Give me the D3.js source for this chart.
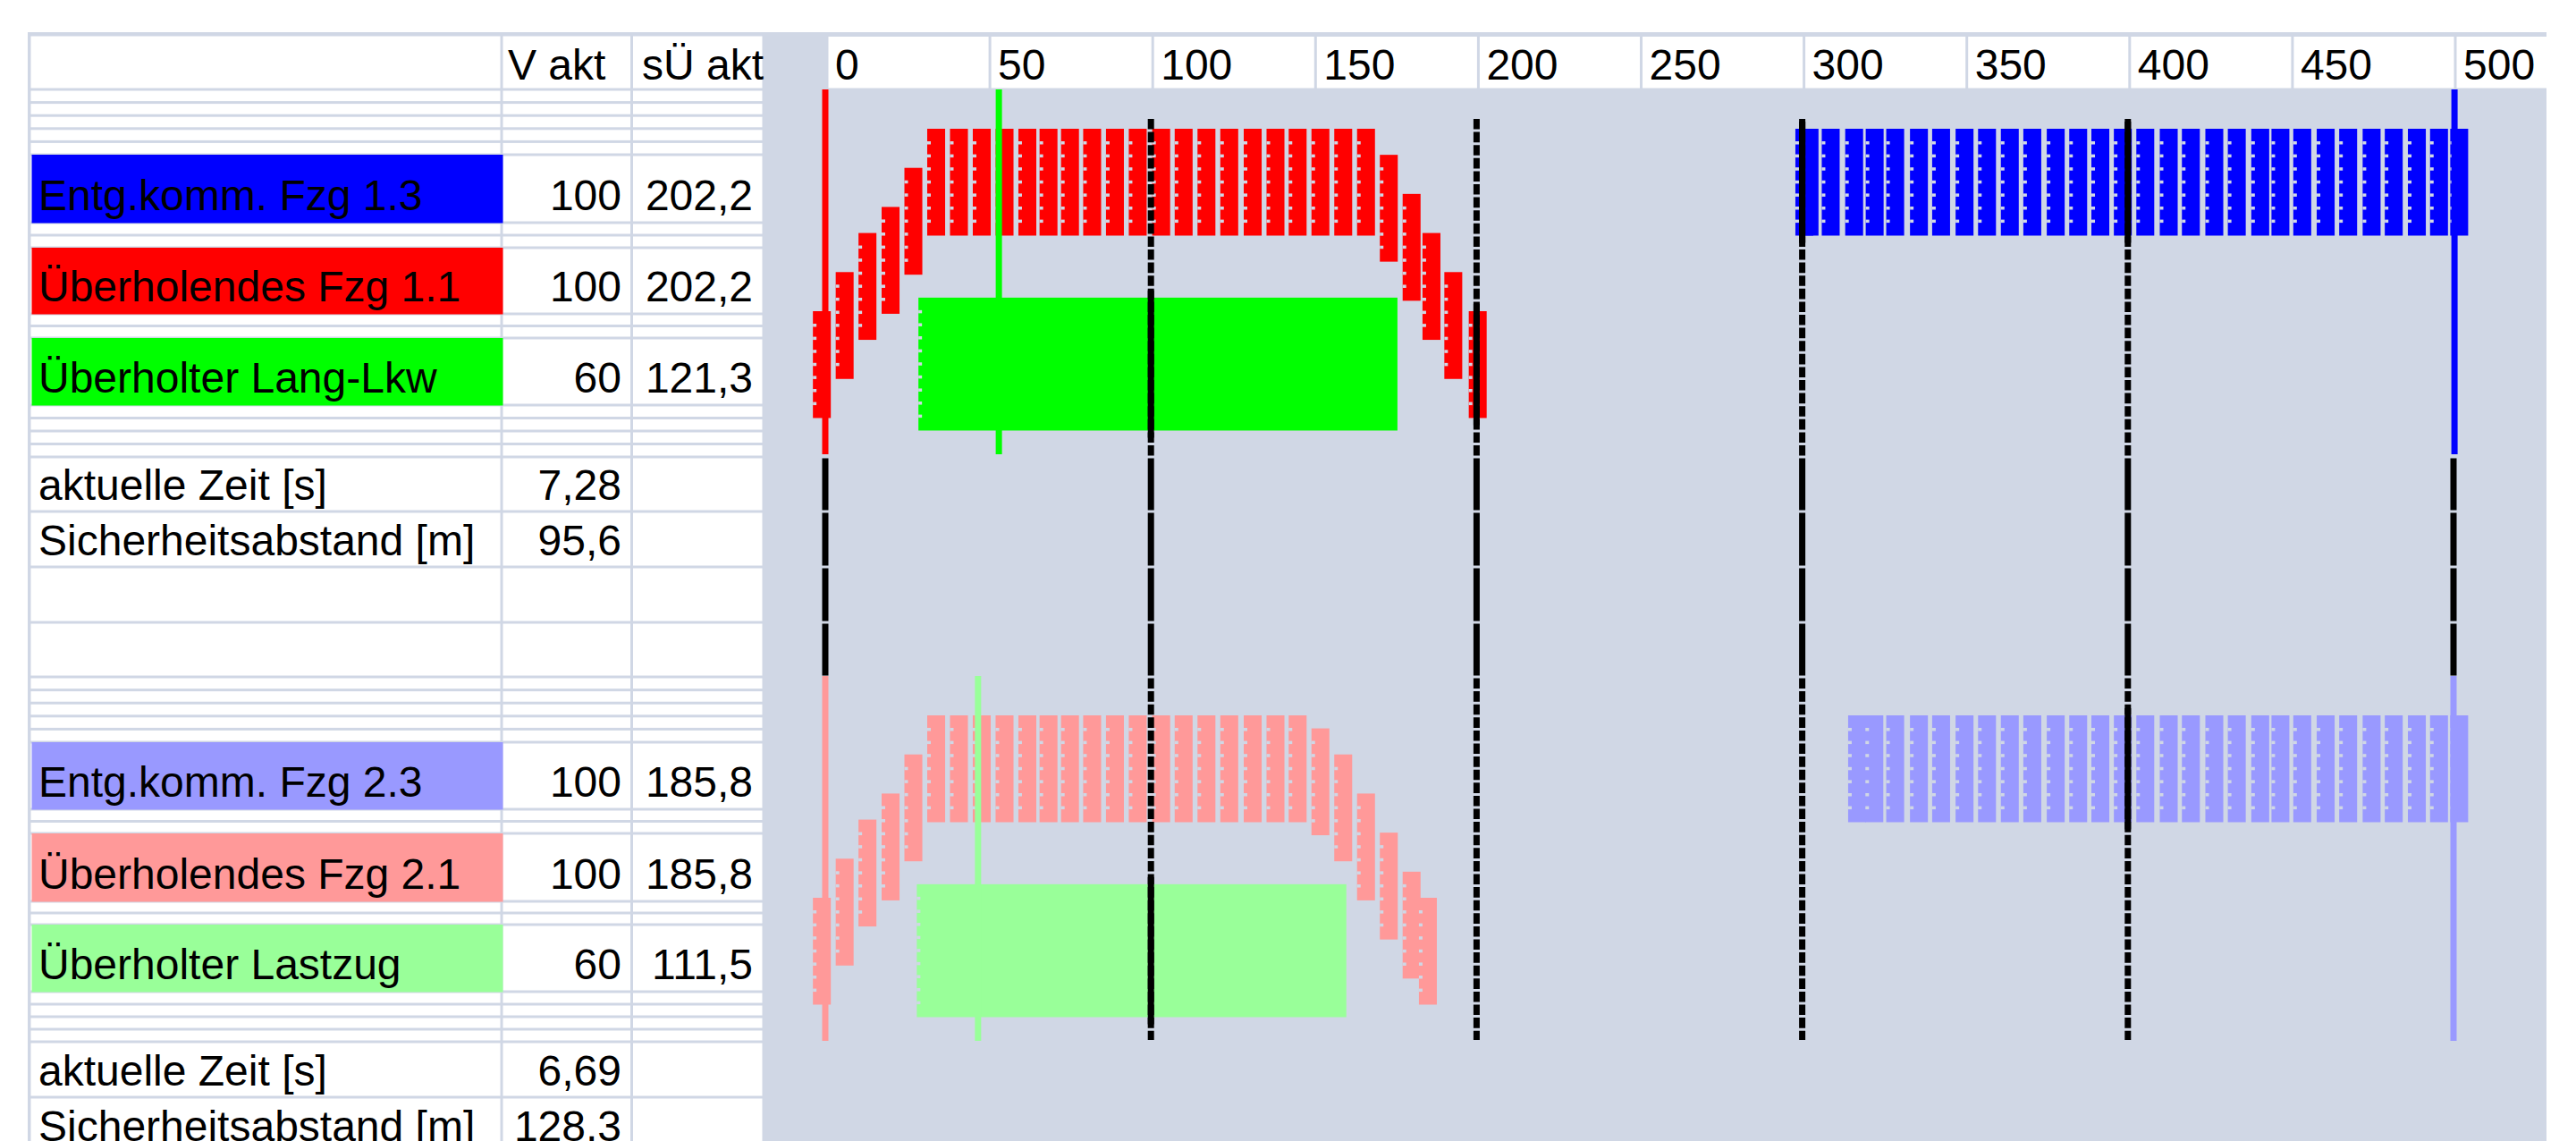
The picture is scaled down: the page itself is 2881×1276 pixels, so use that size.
<!DOCTYPE html>
<html><head><meta charset="utf-8">
<script src="https://cdn.jsdelivr.net/npm/d3@7"></script>
<style>
body{margin:0;background:#fff}
svg{display:block}
text{font-family:"Liberation Sans",Arial,sans-serif;font-size:48px;fill:#000}
</style></head>
<body><svg id="chart" width="2881" height="1276"></svg>
<script>
// ---------------- DATA ----------------
const tickValues = [0, 50, 100, 150, 200, 250, 300, 350, 400, 450, 500];
const gridValues = [100, 200, 300, 400];
const edgeValues = [0, 500];
const headerLabels = ["", "V akt", "sÜ akt"];

const group1Labels = ["Entg.komm. Fzg 1.3", "Überholendes Fzg 1.1", "Überholter Lang-Lkw"];
const group1Speeds = ["100", "100", "60"];
const group1Dist = ["202,2", "202,2", "121,3"];
const group1Info = [["aktuelle Zeit [s]", "7,28"], ["Sicherheitsabstand [m]", "95,6"]];

const group2Labels = ["Entg.komm. Fzg 2.3", "Überholendes Fzg 2.1", "Überholter Lastzug"];
const group2Speeds = ["100", "100", "60"];
const group2Dist = ["185,8", "185,8", "111,5"];
const group2Info = [["aktuelle Zeit [s]", "6,69"], ["Sicherheitsabstand [m]", "128,3"]];

// scenario 1 – positions [m] and lateral offsets [m]
const red1Pos = [-3.8, 3.2, 10.2, 17.3, 24.3, 31.3, 38.3, 45.3, 52.3, 59.3, 65.8, 72.4, 79.2, 86.2, 93.2,
  100.4, 107.3, 114.3, 121.3, 128.5, 135.5, 142.3, 149.3, 156.3, 163.3, 170.3, 177.3, 183.4, 190.1, 197.6];
const red1Lat = [3.5, 2.75, 2.0, 1.5, 0.75, 0, 0, 0, 0, 0, 0, 0, 0, 0, 0,
  0, 0, 0, 0, 0, 0, 0, 0, 0, 0, 0.5, 1.25, 2.0, 2.75, 3.5];
const blue1Pos = [297.9, 299.5, 306.0, 313.2, 319.5, 325.8, 333.1, 339.9, 347.1, 354.0, 361.0, 367.9, 375.1,
  382.0, 388.8, 395.7, 402.6, 409.8, 416.6, 423.8, 430.7, 437.9, 444.1, 450.8, 458.0, 464.9, 472.1, 478.9,
  486.0, 492.8, 499.0];
const truck1Span = [28.6, 175.7];
const marks1 = [0, 53.3, 500.3];          // red, green, blue position markers

// scenario 2
const red2Pos = [-3.8, 3.2, 10.2, 17.3, 24.3, 31.3, 38.3, 45.3, 52.3, 59.3, 65.8, 72.4, 79.2, 86.2, 93.2,
  100.4, 107.3, 114.3, 121.3, 128.5, 135.5, 142.3, 149.3, 156.3, 163.3, 170.3, 177.3, 182.3];
const red2Lat = [3.5, 2.75, 2.0, 1.5, 0.75, 0, 0, 0, 0, 0, 0, 0, 0, 0, 0,
  0, 0, 0, 0, 0, 0, 0, 0.25, 0.75, 1.5, 2.25, 3.0, 3.5];
const blue2Pos = [314.1, 319.4, 325.8, 333.1, 339.9, 347.1, 354.0, 361.0, 367.9, 375.1, 382.0, 388.8, 395.7,
  402.6, 409.8, 416.6, 423.8, 430.7, 437.9, 444.1, 450.8, 458.0, 464.9, 472.1, 478.9, 486.0, 492.8, 499.0];
const truck2Span = [28.1, 160.0];
const marks2 = [0, 46.9, 500.0];

const carLength = 5.5, carWidth = 2.05, truckWidth = 2.55, truckLat = 3.24, laneWidth = 3.5;

// ---------------- LAYOUT ----------------
const GRID = "#d0d7e5";
const C1 = {red: "#ff0000", green: "#00ff00", blue: "#0000ff"};
const C2 = {red: "#ff9999", green: "#99ff99", blue: "#9999ff"};
const rowHeights = [61, 14.6, 14.6, 14.6, 14.6, 14.6, 76, 14, 14, 74, 13.5, 13.5, 75, 14.5, 14.5, 14.5, 14.5,
  61, 62, 62, 61, 14.6, 14.6, 14.6, 14.6, 14.6, 75, 13.5, 13.5, 76, 13, 13, 75, 14, 14, 14, 14, 62, 62];
const rowTops = []; { let t = 39; rowHeights.forEach(h => { rowTops.push(t); t += h; }); }
const rowBot = i => rowTops[i] + rowHeights[i];
const colX = [33, 561, 706.5, 854];
const plotRight = 2848;

const svg = d3.select("#chart");
const x = d3.scaleLinear().domain([0, 500]).range([923, 2744]);
const y1 = d3.scaleLinear().domain([0, laneWidth]).range([144, 348]);
const y2 = d3.scaleLinear().domain([0, laneWidth]).range([800, 1004]);
const band1 = [100, 508], band2 = [756, 1164];   // vertical extent of each scenario strip

svg.append("rect").attr("width", 2881).attr("height", 1276).attr("fill", "#fff");
svg.append("rect").attr("x", 31).attr("y", 36).attr("width", plotRight - 31).attr("height", 1276 - 36).attr("fill", GRID);

// table cells
const cells = svg.append("g");
rowHeights.forEach((h, i) => {
  for (let j = 0; j < 3; j++) {
    cells.append("rect").attr("x", colX[j] + 1.5).attr("y", rowTops[i] + 1.5)
      .attr("width", colX[j + 1] - colX[j] - 3).attr("height", h - 3).attr("fill", "#fff");
  }
});
const labelRows1 = [6, 9, 12], labelRows2 = [26, 29, 32];
const fills1 = [C1.blue, C1.red, C1.green], fills2 = [C2.blue, C2.red, C2.green];
function labelBlock(rows, labels, speeds, dists, fills) {
  rows.forEach((r, k) => {
    cells.append("rect").attr("x", 35.5).attr("y", rowTops[r]).attr("width", 527)
      .attr("height", rowHeights[r] + 0.5).attr("fill", fills[k]);
    const by = rowBot(r) - 14;
    cells.append("text").attr("x", 43).attr("y", by).text(labels[k]);
    cells.append("text").attr("x", 695).attr("y", by).attr("text-anchor", "end").text(speeds[k]);
    cells.append("text").attr("x", 842).attr("y", by).attr("text-anchor", "end").text(dists[k]);
  });
}
labelBlock(labelRows1, group1Labels, group1Speeds, group1Dist, fills1);
labelBlock(labelRows2, group2Labels, group2Speeds, group2Dist, fills2);
function infoBlock(rows, info) {
  rows.forEach((r, k) => {
    const by = rowBot(r) - 13;
    cells.append("text").attr("x", 43).attr("y", by).text(info[k][0]);
    cells.append("text").attr("x", 695).attr("y", by).attr("text-anchor", "end").text(info[k][1]);
  });
}
infoBlock([17, 18], group1Info);
infoBlock([37, 38], group2Info);
cells.append("text").attr("x", 568).attr("y", 89).text(headerLabels[1]);
cells.append("text").attr("x", 718).attr("y", 89).text(headerLabels[2]);

// axis header cells (tick labels)
const axisG = svg.append("g");
tickValues.forEach((v, i) => {
  const x0 = x(v) + 3.5;
  const x1 = i < tickValues.length - 1 ? x(tickValues[i + 1]) + 0.5 : plotRight;
  axisG.append("rect").attr("x", x0).attr("y", 41).attr("width", x1 - x0).attr("height", 57.5).attr("fill", "#fff");
  axisG.append("text").attr("x", x(v) + 11).attr("y", 89).text(d3.format("d")(v));
});

// vehicles
const plot = svg.append("g");
const solidSpans = {};  // for gridline overlays
function addSpan(x0, x1, top, bot) {
  gridValues.concat(edgeValues).forEach(v => {
    if (v >= x0 && v <= x1) (solidSpans[v] = solidSpans[v] || []).push([top - 8, bot + 8]);
  });
}
function notches(g, left, top, bot, step) {
  for (let yy = top + 14; yy < bot - 5; yy += step) {
    g.append("rect").attr("x", left).attr("y", yy).attr("width", 4).attr("height", 3.5).attr("fill", GRID);
  }
}
function drawVehicles(pos, lat, ys, color, step) {
  const g = plot.append("g");
  pos.forEach((p, i) => {
    const l = lat ? lat[i] : 0;
    const top = ys(l), bot = ys(l + carWidth);
    g.append("rect").attr("x", x(p)).attr("y", top).attr("width", x(p + carLength) - x(p))
      .attr("height", bot - top).attr("fill", color);
    addSpan(p, p + carLength, top, bot);
  });
  pos.forEach((p, i) => {
    const l = lat ? lat[i] : 0;
    notches(g, x(p), ys(l), ys(l + carWidth), step);
  });
}
function drawTruck(span, ys, color, step) {
  const top = ys(truckLat), bot = ys(truckLat + truckWidth);
  plot.append("rect").attr("x", x(span[0])).attr("y", top).attr("width", x(span[1]) - x(span[0]))
    .attr("height", bot - top).attr("fill", color);
  notches(plot, x(span[0]), top, bot, step);
  addSpan(span[0], span[1], top, bot);
}
drawTruck(truck1Span, y1, C1.green, 14.6);
drawVehicles(red1Pos, red1Lat, y1, C1.red, 14.6);
drawVehicles(blue1Pos, null, y1, C1.blue, 14.6);
drawTruck(truck2Span, y2, C2.green, 14.6);
drawVehicles(red2Pos, red2Lat, y2, C2.red, 14.6);
drawVehicles(blue2Pos, null, y2, C2.blue, 14.6);

// position markers (thin coloured lines)
const markCols1 = [C1.red, C1.green, C1.blue], markCols2 = [C2.red, C2.green, C2.blue];
marks1.forEach((m, i) => plot.append("rect").attr("x", x(m) - 3.5).attr("y", band1[0]).attr("width", 7)
  .attr("height", band1[1] - band1[0]).attr("fill", markCols1[i]));
marks2.forEach((m, i) => plot.append("rect").attr("x", x(m) - 3.5).attr("y", band2[0]).attr("width", 7)
  .attr("height", band2[1] - band2[0]).attr("fill", markCols2[i]));

// black gridlines
const lines = svg.append("g").attr("stroke", "#000").attr("stroke-width", 7);
function seg(v, a, b, dash) {
  const l = lines.append("line").attr("x1", x(v)).attr("x2", x(v)).attr("y1", a).attr("y2", b);
  if (dash) l.attr("stroke-dasharray", dash);
}
const longRows = [17, 18, 19, 20];
const gridTop = 133, gridBottom = 1163;
gridValues.forEach(v => {
  seg(v, gridTop, rowTops[17] - 1.5, "11.6,3");
  seg(v, rowBot(20) + 1.5, gridBottom, "11.6,3");
});
gridValues.concat(edgeValues).forEach(v => {
  longRows.forEach(r => seg(v, rowTops[r] + 1.5, Math.min(rowBot(r) - 1.5, band2[0])));
});
gridValues.forEach(v => (solidSpans[v] || []).forEach(s => seg(v, Math.max(gridTop, s[0]), Math.min(gridBottom, s[1]))));
</script></body></html>
